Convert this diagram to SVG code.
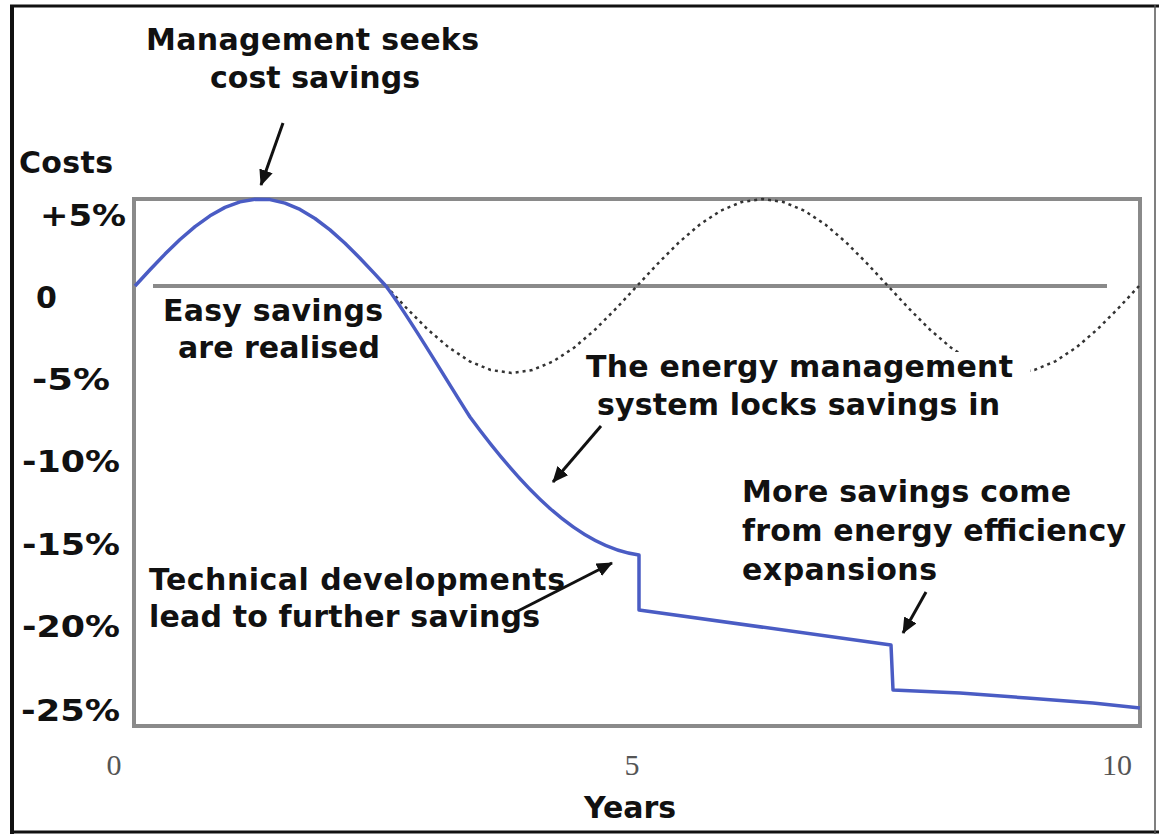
<svg xmlns="http://www.w3.org/2000/svg" width="1159" height="835" viewBox="0 0 1159 835">
<style>
.t{font-family:"DejaVu Sans",Verdana,sans-serif;font-weight:bold;font-size:30px;fill:#111}
.tick{font-family:"Liberation Serif","Times New Roman",serif;font-size:30px;fill:#555}
.box{fill:none;stroke:#8a8a8a;stroke-width:4}
.arrow{stroke:#111;stroke-width:3;fill:none;marker-end:url(#ah)}
</style>
<defs>
<marker id="ah" markerUnits="userSpaceOnUse" markerWidth="16" markerHeight="14" refX="15" refY="7" orient="auto">
<path d="M0,0 L16,7 L0,14 z" fill="#111"/>
</marker>
</defs>
<rect width="1159" height="835" fill="#fff"/>
<g id="frame">
<line x1="10" y1="6" x2="1159" y2="6" stroke="#111" stroke-width="3"/>
<line x1="12" y1="5" x2="12" y2="834" stroke="#111" stroke-width="4"/>
<line x1="10" y1="832" x2="1159" y2="832" stroke="#111" stroke-width="3"/>
<line x1="1155" y1="5" x2="1155" y2="834" stroke="#555" stroke-width="1.5"/>
</g>
<g id="plot">
<rect class="box" x="134" y="199" width="1006" height="527"/>
<line x1="153" y1="286" x2="1107" y2="286" stroke="#8a8a8a" stroke-width="4"/>
</g>
<g id="baseline-cycle">
<path d="M386,286 L406.9,308.5 L427.8,329.5 L448.8,347.5 L469.7,361.3 L490.6,370 L511.5,373 L532.4,370 L553.3,361.3 L574.3,347.5 L595.2,329.5 L616.1,308.5 L637,286 L657.9,263.5 L678.8,242.5 L699.8,224.5 L720.7,210.7 L741.6,202 L762.5,199 L783.4,202 L804.3,210.7 L825.3,224.5 L846.2,242.5 L867.1,263.5 L888,286 L908.9,308.5 L929.8,329.5 L950.8,347.5 L971.7,361.3 L992.6,370 L1013.5,373 L1034.4,370 L1055.3,361.3 L1076.3,347.5 L1097.2,329.5 L1118.1,308.5 L1139,286" fill="none" stroke="#333" stroke-width="2.5" stroke-dasharray="3 4"/>
</g>
<g id="cost-curve">
<path d="M135,286 L150,269.8 L165,254.1 L180,239.5 L195,226.7 L210,215.8 L225,207.4 L240,201.9 L255,199.2 L270,199.6 L285,203.1 L300,209.4 L315,218.5 L330,229.9 L345,243.3 L360,258.2 L375,274.1 L385,285 C405,310 440,370 470,417 C520,485 577,547 639,555 L639,610 L891,645 L893,690 L960,693 L1027,698 L1093,703 L1140,708" fill="none" stroke="#4a5cc4" stroke-width="3.5" stroke-linejoin="round"/>
</g>
<g id="y-axis">
<text class="t" x="19" y="173" textLength="94">Costs</text>
<text class="t" x="40" y="226" textLength="86" lengthAdjust="spacingAndGlyphs">+5%</text>
<text class="t" x="36" y="308">0</text>
<text class="t" x="32" y="390" textLength="78" lengthAdjust="spacingAndGlyphs">-5%</text>
<text class="t" x="22" y="472" textLength="98" lengthAdjust="spacingAndGlyphs">-10%</text>
<text class="t" x="22" y="555" textLength="98" lengthAdjust="spacingAndGlyphs">-15%</text>
<text class="t" x="22" y="637" textLength="98" lengthAdjust="spacingAndGlyphs">-20%</text>
<text class="t" x="21" y="721" textLength="99" lengthAdjust="spacingAndGlyphs">-25%</text>
</g>
<g id="x-axis">
<text class="tick" x="114" y="775" text-anchor="middle">0</text>
<text class="tick" x="632" y="775" text-anchor="middle">5</text>
<text class="tick" x="1117" y="775" text-anchor="middle">10</text>
<text class="t" x="584" y="818" textLength="92">Years</text>
</g>
<g id="note-management">
<text class="t" x="146" y="50" textLength="333">Management seeks</text>
<text class="t" x="210" y="88" textLength="210">cost savings</text>
</g>
<g id="note-easy">
<text class="t" x="163" y="321" textLength="220">Easy savings</text>
<text class="t" x="178" y="358" textLength="202">are realised</text>
</g>
<g id="note-ems">
<rect x="580" y="352" width="450" height="32" fill="#fff"/>
<text class="t" x="586" y="377" textLength="427">The energy management</text>
<text class="t" x="597" y="415" textLength="403">system locks savings in</text>
</g>
<g id="note-technical">
<text class="t" x="149" y="590" textLength="416">Technical developments</text>
<text class="t" x="149" y="627" textLength="391">lead to further savings</text>
</g>
<g id="note-more">
<text class="t" x="742" y="502" textLength="329">More savings come</text>
<text class="t" x="742" y="541" textLength="384">from energy efficiency</text>
<text class="t" x="742" y="580" textLength="195">expansions</text>
</g>
<g id="connectors">
<line class="arrow" x1="283" y1="123" x2="261" y2="185"/>
<line class="arrow" x1="601" y1="426" x2="553" y2="482"/>
<line class="arrow" x1="516" y1="612" x2="612" y2="563"/>
<line class="arrow" x1="926" y1="592" x2="903" y2="633"/>
</g>
</svg>
